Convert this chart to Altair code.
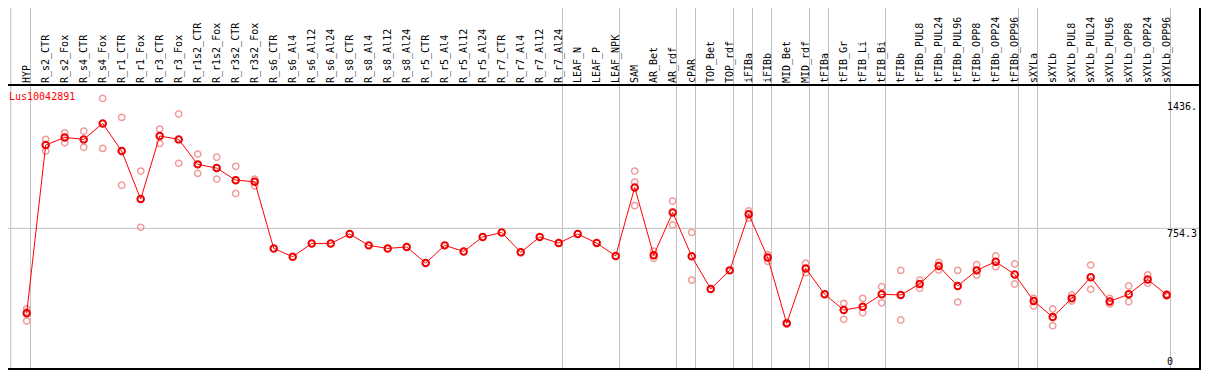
import altair as alt
import pandas as pd

gene = "Lus10042891"

samples = [
    "HYP", "R_s2_CTR", "R_s2_Fox", "R_s4_CTR", "R_s4_Fox", "R_r1_CTR", "R_r1_Fox",
    "R_r3_CTR", "R_r3_Fox", "R_r1s2_CTR", "R_r1s2_Fox", "R_r3s2_CTR", "R_r3s2_Fox",
    "R_s6_CTR", "R_s6_Al4", "R_s6_Al12", "R_s6_Al24", "R_s8_CTR", "R_s8_Al4",
    "R_s8_Al12", "R_s8_Al24", "R_r5_CTR", "R_r5_Al4", "R_r5_Al12", "R_r5_Al24",
    "R_r7_CTR", "R_r7_Al4", "R_r7_Al12", "R_r7_Al24", "LEAF_N", "LEAF_P", "LEAF_NPK",
    "SAM", "AR_Bet", "AR_rdf", "cPAR", "TOP_Bet", "TOP_rdf", "iFIBa", "iFIBb",
    "MID_Bet", "MID_rdf", "tFIBa", "tFIB_Gr", "tFIB_Li", "tFIB_Bi", "tFIBb",
    "tFIBb_PUL8", "tFIBb_PUL24", "tFIBb_PUL96", "tFIBb_OPP8", "tFIBb_OPP24",
    "tFIBb_OPP96", "sXYLa", "sXYLb", "sXYLb_PUL8", "sXYLb_PUL24", "sXYLb_PUL96",
    "sXYLb_OPP8", "sXYLb_OPP24", "sXYLb_OPP96",
]

means = [
    275, 1224, 1267, 1256, 1346, 1190, 919, 1275, 1256, 1115, 1094, 1026, 1017,
    641, 594, 669, 669, 722, 658, 641, 649, 558, 658, 624, 705, 731, 619, 705, 671,
    722, 671, 598, 985, 602, 844, 596, 412, 517, 833, 590, 218, 528, 382, 293, 312,
    382, 378, 440, 541, 429, 517, 566, 494, 344, 254, 359, 478, 342, 382, 466, 378,
]

replicates = [
    [283, 231, 300], [1256, 1190], [1293, 1237], [1303, 1211], [1487, 1205],
    [1380, 997], [1077, 760], [1314, 1233], [1399, 1121], [1173, 1064],
    [1155, 1032], [1104, 951], [1032, 993],
    [], [], [], [], [], [], [], [], [], [], [], [], [], [], [], [],
    [], [], [],
    [1077, 1015, 882], [626, 585], [908, 773], [731, 462], [], [],
    [853, 812], [605, 568], [222, 214], [557, 504], [],
    [331, 241], [359, 278], [425, 334], [517, 237],
    [462, 416], [562, 519], [517, 338], [549, 491], [598, 538], [553, 440],
    [359, 316], [299, 205], [378, 344], [547, 410], [359, 327], [429, 340],
    [491, 444], [384, 372],
]

group_breaks = [-0.84, 0.2, 28.2, 31.2, 34.2, 35.2, 37.2, 38.2, 39.2, 41.2,
                42.2, 45.2, 52.2, 53.2, 60.2]

ref_level = [754.3]
ylab_mid_values = [1436, 0]
ylab_mid_texts = ["1436.", "0"]
ylab_top_values = [754.3]
ylab_top_texts = ["754.3"]

mean_df = pd.DataFrame({"idx": list(range(len(samples))), "sample": samples, "value": means})
rep_rows = []
for i, reps in enumerate(replicates):
    for r in reps:
        rep_rows.append({"idx": i, "value": r})
rep_df = pd.DataFrame(rep_rows)
brk_df = pd.DataFrame({"b": group_breaks})
ref_df = pd.DataFrame({"v": ref_level})
ymid_df = pd.DataFrame({"v": ylab_mid_values, "t": ylab_mid_texts})
ytop_df = pd.DataFrame({"v": ylab_top_values, "t": ylab_top_texts})
title_df = pd.DataFrame({"t": [gene]})

W, H = 1193, 362
xs = alt.Scale(domain=[-0.984, 61.805], nice=False, zero=False)
ys = alt.Scale(domain=[-45.1, 1997.2], nice=False, zero=False)
FONT = "DejaVu Sans Mono"

vgrid = alt.Chart(brk_df).mark_rule(color="#c0c0c0", strokeWidth=1).encode(
    x=alt.X("b:Q", scale=xs, axis=None),
    y=alt.value(0), y2=alt.value(361),
)
hgrid = alt.Chart(ref_df).mark_rule(color="#c0c0c0", strokeWidth=1).encode(
    y=alt.Y("v:Q", scale=ys, axis=None),
    x=alt.value(0), x2=alt.value(W),
)
frame_top = alt.Chart(title_df).mark_rule(color="black", strokeWidth=2).encode(
    y=alt.value(77), x=alt.value(0), x2=alt.value(W))
frame_bot = alt.Chart(title_df).mark_rule(color="black", strokeWidth=2).encode(
    y=alt.value(361), x=alt.value(0), x2=alt.value(W))
frame_right = alt.Chart(title_df).mark_rule(color="black", strokeWidth=2).encode(
    x=alt.value(W - 1), y=alt.value(0), y2=alt.value(362))

rep_pts = alt.Chart(rep_df).mark_point(
    shape="circle", filled=False, color="#f29b9b", size=40, strokeWidth=1.5, opacity=1
).encode(
    x=alt.X("idx:Q", scale=xs, axis=None),
    y=alt.Y("value:Q", scale=ys, axis=None),
)
line = alt.Chart(mean_df).mark_line(color="#ff0000", strokeWidth=1).encode(
    x=alt.X("idx:Q", scale=xs, axis=None),
    y=alt.Y("value:Q", scale=ys, axis=None),
)
mean_pts = alt.Chart(mean_df).mark_point(
    shape="circle", filled=False, color="#ee0000", size=42, strokeWidth=2, opacity=1
).encode(
    x=alt.X("idx:Q", scale=xs, axis=None),
    y=alt.Y("value:Q", scale=ys, axis=None),
)
xlabels = alt.Chart(mean_df).mark_text(
    angle=270, align="left", baseline="middle", font=FONT, fontSize=10, color="black"
).encode(
    x=alt.X("idx:Q", scale=xs, axis=None),
    y=alt.value(75),
    text="sample:N",
)
title = alt.Chart(title_df).mark_text(
    align="left", baseline="middle", font=FONT, fontSize=10, color="#ff0000"
).encode(x=alt.value(1), y=alt.value(89), text="t:N")
ylab_mid = alt.Chart(ymid_df).mark_text(
    align="left", baseline="middle", font=FONT, fontSize=10, color="black"
).encode(
    y=alt.Y("v:Q", scale=ys, axis=None), x=alt.value(1159), text="t:N")
ylab_top = alt.Chart(ytop_df).mark_text(
    align="left", baseline="top", font=FONT, fontSize=10, color="black", dy=1
).encode(
    y=alt.Y("v:Q", scale=ys, axis=None), x=alt.value(1159), text="t:N")

chart = alt.layer(
    vgrid, hgrid, rep_pts, line, mean_pts, xlabels, title, ylab_mid, ylab_top,
    frame_top, frame_bot, frame_right,
).properties(
    width=W, height=H, padding=0, autosize=alt.AutoSizeParams(type="none"),
    background="white",
).configure_view(stroke=None)

chart.save("out.html", embed_options={"renderer": "svg", "actions": False})
